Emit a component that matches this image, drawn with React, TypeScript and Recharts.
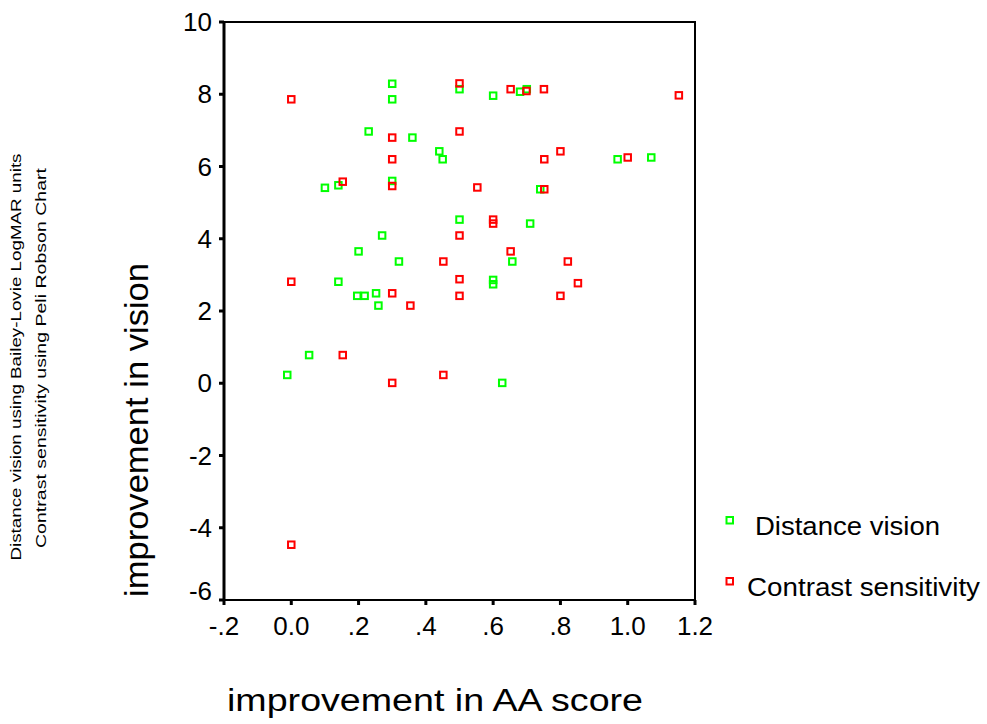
import React from "react";
import {
  ScatterChart,
  Scatter,
  XAxis,
  YAxis,
  ReferenceArea,
  Legend,
  Label,
} from "recharts";

// improvement in AA score (x) vs improvement in vision (y)
const distanceX = [
  0.3, 0.3, 0.23, 0.36, 0.44, 0.45, 0.1, 0.14, 0.3, 0.5, 0.6, 0.68, 0.7, 0.74,
  0.97, 1.07, 0.5, 0.27, 0.2, 0.32, 0.14, 0.196, 0.218, 0.252, 0.259, 0.6, 0.6,
  0.657, 0.71, 0.053, -0.012, 0.627,
];
const distanceY = [
  8.29, 7.86, 6.97, 6.8, 6.42, 6.2, 5.41, 5.48, 5.6, 8.14, 7.96, 8.07, 8.14,
  5.37, 6.2, 6.25, 4.53, 4.09, 3.65, 3.37, 2.81, 2.42, 2.42, 2.49, 2.15, 2.86,
  2.74, 3.37, 4.42, 0.78, 0.23, 0.01,
];
const contrastX = [
  0.0, 0.3, 0.3, 0.3, 0.153, 0.5, 0.5, 0.553, 0.652, 0.699, 0.751, 0.752, 0.752,
  0.8, 1.0, 1.152, 0.6, 0.6, 0.5, 0.652, 0.452, 0.822, 0.0, 0.5, 0.852, 0.3,
  0.5, 0.8, 0.354, 0.153, 0.3, 0.452, 0.0,
];
const contrastY = [
  7.86, 6.8, 6.2, 5.46, 5.58, 8.3, 6.97, 5.42, 8.14, 8.09, 8.14, 6.2, 5.37,
  6.42, 6.25, 7.97, 4.53, 4.42, 4.09, 3.65, 3.37, 3.37, 2.81, 2.88, 2.77, 2.49,
  2.42, 2.42, 2.15, 0.78, 0.01, 0.23, -4.47,
];
const xTicks = [-0.2, 0, 0.2, 0.4, 0.6, 0.8, 1.0, 1.2];
const yTicks = [-6, -4, -2, 0, 2, 4, 6, 8, 10];
const seriesNames = ["Distance vision", "Contrast sensitivity"];

const GREEN = "#00ff00";
const RED = "#ff0000";
const FONT = "'Liberation Sans', Arial, sans-serif";

const distanceData = distanceX.map((x, i) => ({ x, y: distanceY[i] }));
const contrastData = contrastX.map((x, i) => ({ x, y: contrastY[i] }));

const fmtX = (v: number) => {
  if (v === 0) return "0.0";
  const s = v.toFixed(1);
  return Math.abs(v) < 1 ? s.replace("0.", ".") : s;
};

const square = (color: string) => (p: any) =>
  (
    <rect
      x={p.cx - 3.25}
      y={p.cy - 3.25}
      width={6.5}
      height={6.5}
      fill="none"
      stroke={color}
      strokeWidth={2}
    />
  );

const YTick = (p: any) => (
  <text
    x={p.x}
    y={p.y + (p.payload.value === -6 ? -9 : 0)}
    dy="0.355em"
    textAnchor="end"
    fontSize={26}
    fontFamily={FONT}
    fill="#000"
  >
    {p.payload.value}
  </text>
);

const LegendBox = () => (
  <svg width={267} height={100}>
    <rect x={6.5} y={12} width={6.5} height={6.5} fill="none" stroke={GREEN} strokeWidth={2} />
    <text x={35} y={30} fontSize={25} fontFamily={FONT} textLength={185} lengthAdjust="spacingAndGlyphs">
      {seriesNames[0]}
    </text>
    <rect x={6.5} y={73} width={6.5} height={6.5} fill="none" stroke={RED} strokeWidth={2} />
    <text x={27} y={91} fontSize={25} fontFamily={FONT} textLength={233} lengthAdjust="spacingAndGlyphs">
      {seriesNames[1]}
    </text>
  </svg>
);

export default function App() {
  return (
    <div style={{ position: "absolute", left: 0, top: 0, background: "#fff" }}>
      <ScatterChart
        width={987}
        height={724}
        margin={{ top: 22, right: 292, bottom: 74, left: 164 }}
      >
        <XAxis
          type="number"
          dataKey="x"
          domain={[-0.2, 1.2]}
          ticks={xTicks}
          tickFormatter={fmtX}
          allowDataOverflow
          height={50}
          axisLine={{ stroke: "#000", strokeWidth: 2 }}
          tickLine={{ stroke: "#000", strokeWidth: 3 }}
          tickSize={5}
          tickMargin={12}
          tick={{ fontSize: 26, fontFamily: FONT, fill: "#000" }}
        >
          <Label
            content={() => (
              <text
                x={435}
                y={711}
                textAnchor="middle"
                fontSize={31}
                fontFamily={FONT}
                fill="#000"
                textLength={416}
                lengthAdjust="spacingAndGlyphs"
              >
                improvement in AA score
              </text>
            )}
          />
        </XAxis>
        <YAxis
          type="number"
          dataKey="y"
          domain={[-6, 10]}
          ticks={yTicks}
          allowDataOverflow
          width={60}
          axisLine={{ stroke: "#000", strokeWidth: 3 }}
          tickLine={{ stroke: "#000", strokeWidth: 3 }}
          tickSize={5}
          tickMargin={7}
          tick={<YTick />}
        >
          <Label
            content={() => (
              <g fontFamily={FONT} fill="#000">
                <text
                  x={148}
                  y={430}
                  transform="rotate(-90 148 430)"
                  textAnchor="middle"
                  fontSize={34}
                  textLength={334}
                  lengthAdjust="spacingAndGlyphs"
                >
                  improvement in vision
                </text>
                <text
                  x={21}
                  y={357}
                  transform="rotate(-90 21 357)"
                  textAnchor="middle"
                  fontSize={14}
                  textLength={407}
                  lengthAdjust="spacingAndGlyphs"
                >
                  Distance vision using Bailey-Lovie LogMAR units
                </text>
                <text
                  x={46}
                  y={358}
                  transform="rotate(-90 46 358)"
                  textAnchor="middle"
                  fontSize={14}
                  textLength={380}
                  lengthAdjust="spacingAndGlyphs"
                >
                  Contrast sensitivity using Peli Robson Chart
                </text>
              </g>
            )}
          />
        </YAxis>
        <ReferenceArea
          x1={-0.2}
          x2={1.2}
          y1={-6}
          y2={10}
          fill="none"
          stroke="#000"
          strokeWidth={2}
          fillOpacity={0}
          ifOverflow="visible"
        />
        <Scatter
          name={seriesNames[0]}
          data={distanceData}
          shape={square(GREEN)}
          isAnimationActive={false}
        />
        <Scatter
          name={seriesNames[1]}
          data={contrastData}
          shape={square(RED)}
          isAnimationActive={false}
        />
        <Legend
          layout="vertical"
          align="center"
          verticalAlign="middle"
          content={<LegendBox />}
          wrapperStyle={{ position: "absolute", left: 720, top: 505, width: 267, height: 100 }}
        />
      </ScatterChart>
    </div>
  );
}
